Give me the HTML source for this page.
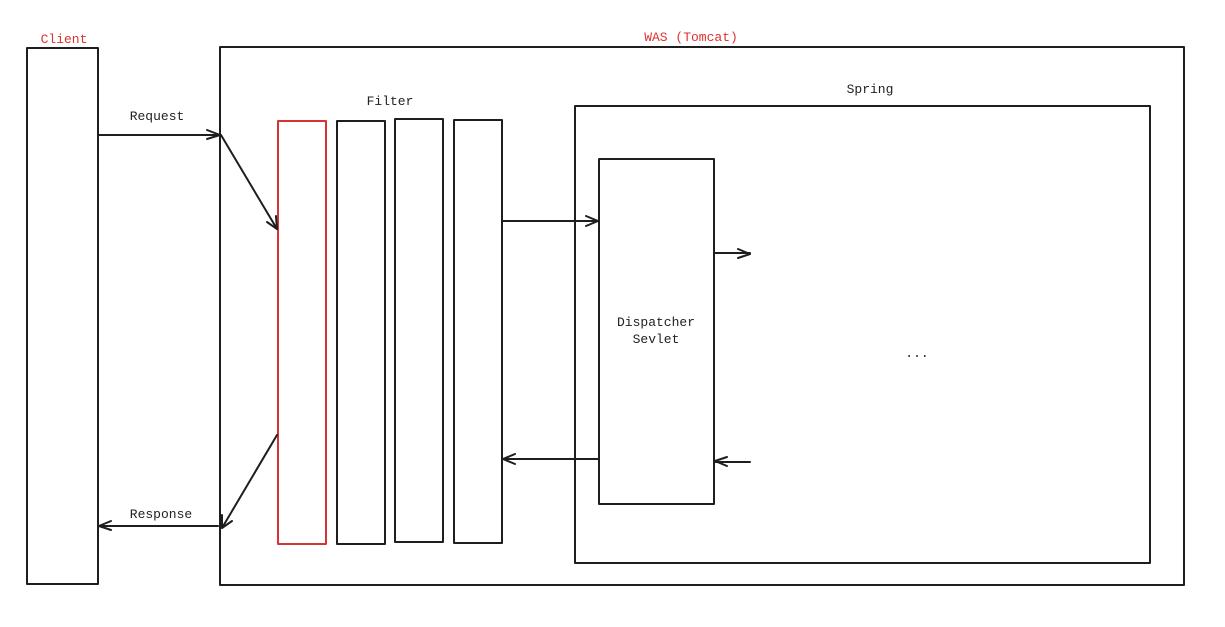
<!DOCTYPE html>
<html><head><meta charset="utf-8"><style>
html,body{margin:0;padding:0;background:#fff;}
svg{display:block}
text{font-family:"Liberation Mono","DejaVu Sans Mono",monospace;font-size:13px;fill:#222}
</style></head><body>
<svg width="1225" height="627" viewBox="0 0 1225 627" xmlns="http://www.w3.org/2000/svg">
<g fill="none" stroke="#1e1e1e" stroke-width="2" stroke-linecap="round" stroke-linejoin="round">
<rect x="27" y="48" width="71" height="536"/>
<rect x="220" y="47" width="964" height="538"/>
<rect x="575" y="106" width="575" height="457"/>
<rect x="278" y="121" width="48" height="423" stroke="#d63333"/>
<rect x="337" y="121" width="48" height="423"/>
<rect x="395" y="119" width="48" height="423"/>
<rect x="454" y="120" width="48" height="423"/>
<rect x="599" y="159" width="115" height="345"/>
<!-- request -->
<path d="M98 135 H220"/><path d="M207 130 L220 135 L207 139"/>
<path d="M221 135 L277 229"/><path d="M267 222 L277 229 L276 216"/>
<!-- response -->
<path d="M277 435 L222 528"/><path d="M222 515 L222 528 L232 521"/>
<path d="M218 526 H99"/><path d="M111 521 L99 526 L111 530"/>
<!-- to dispatcher -->
<path d="M502 221 H598"/><path d="M586 216 L598 221 L586 226"/>
<path d="M599 459 H503"/><path d="M515 454 L503 459 L515 464"/>
<path d="M714 253 H750"/><path d="M738 249 L750 254 L738 258"/>
<path d="M750 462 H715"/><path d="M727 457 L715 461 L727 466"/>
</g>
<text x="64" y="43" text-anchor="middle" style="fill:#e03131">Client</text>
<text x="691" y="41" text-anchor="middle" style="fill:#e03131">WAS (Tomcat)</text>
<text x="157" y="120" text-anchor="middle">Request</text>
<text x="161" y="518" text-anchor="middle">Response</text>
<text x="390" y="105" text-anchor="middle">Filter</text>
<text x="870" y="93" text-anchor="middle">Spring</text>
<text x="656" y="326" text-anchor="middle">Dispatcher</text>
<text x="656" y="343" text-anchor="middle">Sevlet</text>
<text x="917" y="357" text-anchor="middle">...</text>
</svg>
</body></html>
